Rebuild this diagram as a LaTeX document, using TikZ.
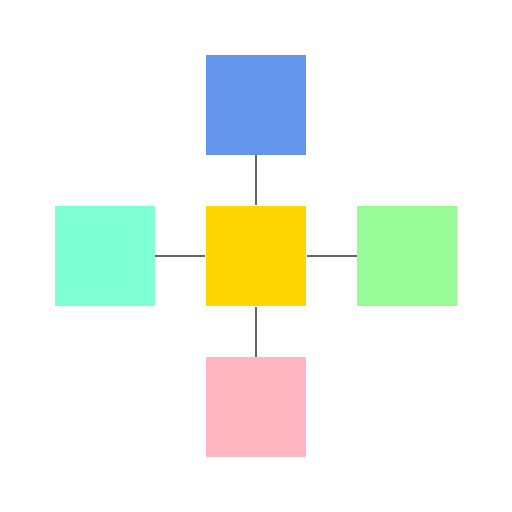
\documentclass[tikz,border=0pt]{standalone}
\usepackage{tikz}
\usetikzlibrary{positioning}

\definecolor{cornblue}{RGB}{100,149,237}
\definecolor{aquamarine}{RGB}{127,255,212}
\definecolor{goldcol}{RGB}{255,215,0}
\definecolor{palegreen}{RGB}{152,251,152}
\definecolor{lightpink}{RGB}{255,182,193}

\begin{document}
\begin{tikzpicture}[nodes={rectangle, minimum size=1cm, inner sep=0pt}, node distance=0.5cm]
                            \useasboundingbox (-2.56,-2.56) rectangle (2.56,2.56);
                            \node[fill=goldcol] (hub) at (0,0) {};
                            \node[fill=cornblue, above=of hub] (top) {};
                            \node[fill=aquamarine, left=of hub] (west) {};
                            \node[fill=palegreen, right=of hub] (east) {};
                            \node[fill=lightpink, below=of hub] (bottom) {};
                            \draw[gray!80!black, line width=0.45pt] (hub) -- (top);
                            \draw[gray!80!black, line width=0.45pt] (hub) -- (west);
                            \draw[gray!80!black, line width=0.45pt] (hub) -- (east);
                            \draw[gray!80!black, line width=0.45pt] (hub) -- (bottom);
                        \end{tikzpicture}
\end{document}
